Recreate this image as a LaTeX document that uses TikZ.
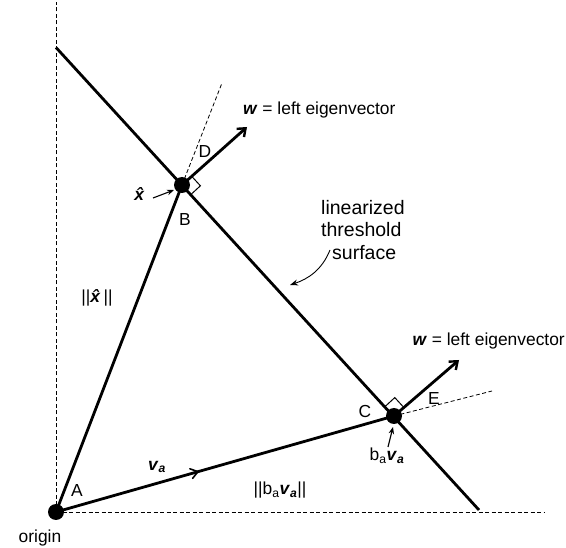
\documentclass[tikz,border=0pt]{standalone}
\usepackage{fontspec}
\setmainfont{Liberation Sans}
\usetikzlibrary{arrows.meta,decorations.markings,calc}
\newcommand{\bvec}[1]{\textbf{\textit{#1}}}
\begin{document}
\begin{tikzpicture}[x=1pt,y=-1pt,
  thick line/.style={line width=2.8pt},
  axis/.style={dashed,line width=0.9pt,dash pattern=on 4pt off 2.5pt},
  ext/.style={dashed,line width=0.8pt,dash pattern=on 4pt off 2.5pt},
  warrow/.style={line width=2.8pt,-{Straight Barb[length=7pt,width=11pt,line width=2.4pt]}},
  small arrow/.style={line width=1.1pt,-{Stealth[length=7pt,width=5.5pt]}},
  dot/.style={circle,fill=black,inner sep=0pt,minimum size=16pt},
  lbl/.style={font=\fontsize{17.4}{22}\selectfont,inner sep=0pt},
  rightangle/.style={line width=1pt}
]
\useasboundingbox (0,0) rectangle (566,548);
% points
\coordinate (O) at (56,512);
\coordinate (Bp) at (182,185);
\coordinate (Cp) at (394,416);
\coordinate (T1) at (56,47.5);
\coordinate (T2) at (479,510);
\coordinate (Ytop) at (56,2);
\coordinate (Xend) at (545,512);
\coordinate (Dend) at (222,83);
\coordinate (Eend) at (492,391);
\coordinate (W1) at (247,127);
\coordinate (W2) at (459,360);
% axes
\draw[axis] (O) -- (Ytop);
\draw[axis] (O) -- (Xend);
% extensions
\draw[ext] (Bp) -- (Dend);
\draw[ext] (Cp) -- (Eend);
% threshold line
\draw[thick line] (T1) -- (T2);
% triangle sides
\draw[thick line] (O) -- (Bp);
\draw[thick line,postaction={decorate},decoration={markings,mark=at position 0.42 with {\draw[line width=1.6pt,line cap=round,line join=miter] (-7pt,5pt) -- (0pt,0pt) -- (-7pt,-5pt);}}] (O) -- (Cp);
% right angle marks
\draw[rightangle] ($(Bp)+(8.8,9.6)$) -- ++(9.6,-8.8) -- ++(-8.8,-9.6);
\draw[rightangle] ($(Cp)+(-8.8,-9.6)$) -- ++(9.6,-8.8) -- ++(8.8,9.6);
% w arrows
\draw[warrow] (Bp) -- (W1);
\draw[warrow] (Cp) -- (W2);
% dots
\node[dot] (O') at (O) {};
\node[dot] (B') at (Bp) {};
\node[dot] (C') at (Cp) {};
% labels
\node[lbl,anchor=base west] (wl1) at (243,115) {\bvec{w} = left eigenvector};
\node[lbl,anchor=base east] (wl2) at (565,346) {\bvec{w} = left eigenvector};
\node[lbl] (Dl) at (205,152) {D};
\node[lbl] (El) at (434,399) {E};
\node[lbl] (Cl) at (365,412) {C};
\node[lbl] (Bl) at (185,220) {B};
\node[lbl] (Al) at (77,491) {A};
\node[lbl] (orig) at (40,538) {origin};
\node[lbl] (va) at (157,467) {\bvec{v}\textsubscript{\bvec{a}}};
\node[lbl] (nbva) at (280,490) {||b\textsubscript{a}\bvec{v}\textsubscript{\bvec{a}}||};
\node[lbl] (bva) at (387,456) {b\textsubscript{a}\bvec{v}\textsubscript{\bvec{a}}};
\node[lbl] (nx) at (97,298) {||\bvec{\^x}||};
\node[lbl] (xh) at (141,194) {\bvec{\^x}};
\node[lbl,align=left,anchor=north west,font=\fontsize{19.5}{22.5}\selectfont] (thr) at (321,200) {linearized\\threshold\\\hspace*{11pt}surface};
% small arrows
\coordinate (xa1) at (153,198);
\coordinate (xa2) at (174,190);
\draw[small arrow] (xa1) -- (xa2);
\coordinate (ba1) at (388,447);
\coordinate (ba2) at (393,427);
\draw[small arrow] (ba1) -- (ba2);
\coordinate (ta1) at (330,250);
\coordinate (ta2) at (290,285);
\draw[line width=0.9pt,-{Stealth[length=8pt,width=6pt]}] (ta1) .. controls (322,270) and (308,279) .. (ta2);
\end{tikzpicture}
\end{document}
